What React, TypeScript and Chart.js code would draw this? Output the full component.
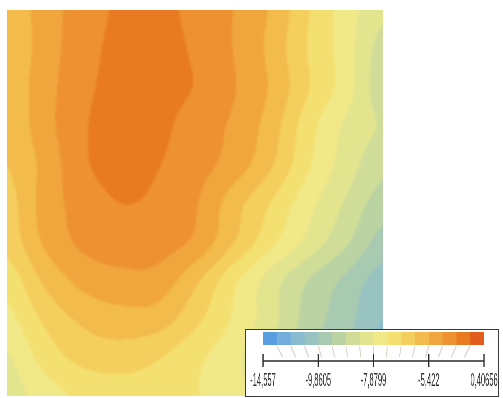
import React, { useEffect, useRef } from "react";
import { Chart, registerables } from "chart.js";

Chart.register(...registerables);

// grid node positions (column / row indices of the sampled field)
const gridCols = [0, 1, 2, 3, 4, 5, 6, 7, 8, 9, 10];
const gridRows = [0, 1, 2, 3, 4, 5, 6, 7, 8, 9, 10];

// field sampled on the grid, in colour-level units (0 = lowest band, 16 = highest)
const row0 = [11.2, 12.5, 13.45, 14.15, 14.3, 13.7, 13.0, 11.9, 10.1, 8.5, 7.2];
const row1 = [11.1, 12.5, 13.55, 14.3, 14.4, 13.85, 13.0, 11.75, 9.95, 8.5, 6.6];
const row2 = [11.3, 12.6, 13.7, 14.4, 14.45, 13.95, 13.1, 11.9, 10.1, 8.5, 6.4];
const row3 = [11.2, 12.6, 13.85, 14.5, 14.3, 13.5, 12.85, 11.55, 9.45, 7.85, 6.9];
const row4 = [11.0, 12.3, 13.8, 14.4, 14.05, 13.4, 12.6, 11.15, 9.15, 7.55, 6.3];
const row5 = [10.6, 12.4, 13.4, 14.0, 13.8, 13.1, 11.5, 10.0, 8.35, 6.9, 5.5];
const row6 = [10.4, 12.15, 13.2, 13.5, 13.45, 12.8, 11.1, 9.3, 7.7, 6.2, 4.6];
const row7 = [9.4, 11.2, 12.3, 12.7, 12.6, 11.25, 9.3, 7.55, 6.0, 4.8, 3.5];
const row8 = [8.7, 10.2, 11.2, 11.6, 11.5, 10.3, 8.9, 7.4, 5.6, 4.4, 3.0];
const row9 = [7.9, 9.4, 10.3, 10.5, 10.1, 9.25, 8.35, 6.8, 5.3, 4.0, 2.6];
const row10 = [7.5, 8.5, 9.2, 9.5, 9.45, 9.05, 8.4, 7.2, 5.1, 3.8, 2.4];
const field = [row0, row1, row2, row3, row4, row5, row6, row7, row8, row9, row10];

// colour of each level band (low -> high)
const levelColors = [
  "#5a9ee2", "#74aedc", "#88bbd0", "#98c3c0", "#a8cab0", "#bbd3a3", "#d0dd98", "#e3e58e",
  "#f1e887", "#f4e070", "#f4cf5d", "#f2bb4c", "#f0a63d", "#ed9131", "#e87b22", "#e25d1c",
];

// colour-bar ticks
const tickLevels = [0, 4, 8, 12, 16];
const tickLabels = ["-14,557", "-9,8605", "-7,8799", "-5,422", "0,40656"];

const SQUEEZE = 0.42;
const BAR_W = 600;

function hexToRgb(h: string) {
  const n = parseInt(h.slice(1), 16);
  return [(n >> 16) & 255, (n >> 8) & 255, n & 255];
}

function cr(p0: number, p1: number, p2: number, p3: number, t: number) {
  return p1 + 0.5 * t * (p2 - p0 + t * (2 * p0 - 5 * p1 + 4 * p2 - p3 + t * (3 * (p1 - p2) + p3 - p0)));
}

function sampleField(gx: number, gy: number) {
  const nc = gridCols.length, nr = gridRows.length;
  const cx = Math.max(0, Math.min(nc - 1.0001, gx));
  const cy = Math.max(0, Math.min(nr - 1.0001, gy));
  const i = Math.floor(cx), j = Math.floor(cy);
  const tx = cx - i, ty = cy - j;
  const cl = (v: number, n: number) => Math.max(0, Math.min(n - 1, v));
  const vals: number[] = [];
  for (let m = -1; m <= 2; m++) {
    const r = field[cl(j + m, nr)];
    vals.push(cr(r[cl(i - 1, nc)], r[cl(i, nc)], r[cl(i + 1, nc)], r[cl(i + 2, nc)], tx));
  }
  return cr(vals[0], vals[1], vals[2], vals[3], ty);
}

const contourPlugin = {
  id: "contourFill",
  beforeDatasetsDraw(chart: any) {
    const { ctx, chartArea: a, scales } = chart;
    const xs = scales.x, ys = scales.y;
    const M = 4;
    const w = Math.round(a.right - a.left) + 2 * M, h = Math.round(a.bottom - a.top) + 2 * M;
    const off = document.createElement("canvas");
    off.width = w;
    off.height = h;
    const octx = off.getContext("2d")!;
    const img = octx.createImageData(w, h);
    const rgb = levelColors.map(hexToRgb);
    const gxs: number[] = [];
    for (let px = 0; px < w; px++) gxs.push(xs.getValueForPixel(a.left - M + px + 0.5));
    for (let py = 0; py < h; py++) {
      const gy = ys.getValueForPixel(a.top - M + py + 0.5);
      for (let px = 0; px < w; px++) {
        const v = sampleField(gxs[px], gy);
        const k = Math.max(0, Math.min(levelColors.length - 1, Math.floor(v)));
        const c = rgb[k];
        const o = (py * w + px) * 4;
        img.data[o] = c[0];
        img.data[o + 1] = c[1];
        img.data[o + 2] = c[2];
        img.data[o + 3] = 255;
      }
    }
    octx.putImageData(img, 0, 0);
    ctx.save();
    ctx.beginPath();
    ctx.rect(a.left, a.top, a.right - a.left, a.bottom - a.top);
    ctx.clip();
    ctx.filter = "blur(0.8px)";
    ctx.drawImage(off, a.left - M, a.top - M, w, h);
    ctx.restore();
  },
};

const colorbarPlugin = {
  id: "colorbarAxis",
  afterDatasetsDraw(chart: any) {
    const { ctx, chartArea: a, scales } = chart;
    const xs = scales.x;
    const mid = (xs.getPixelForValue(0) + xs.getPixelForValue(16)) / 2;
    ctx.save();
    // faint slanted guide lines under the bar
    ctx.strokeStyle = "rgba(185,150,130,0.45)";
    ctx.lineWidth = 2.2;
    for (let i = 1; i < levelColors.length; i++) {
      const px = xs.getPixelForValue(i);
      ctx.beginPath();
      ctx.moveTo(px, a.bottom + 1);
      ctx.lineTo(px + (mid - px) * 0.06, a.bottom + 12);
      ctx.stroke();
    }
    // axis line
    const axisY = a.bottom + 16;
    ctx.strokeStyle = "#2a2a2a";
    ctx.lineWidth = 1.4;
    ctx.beginPath();
    ctx.moveTo(xs.getPixelForValue(0), axisY);
    ctx.lineTo(xs.getPixelForValue(16), axisY);
    ctx.stroke();
    ctx.lineWidth = 2.8;
    for (const t of tickLevels) {
      const px = xs.getPixelForValue(t);
      ctx.beginPath();
      ctx.moveTo(px, axisY - 7);
      ctx.lineTo(px, axisY + 6);
      ctx.stroke();
    }
    ctx.restore();
  },
};

export default function App() {
  const mainRef = useRef<HTMLCanvasElement>(null);
  const barRef = useRef<HTMLCanvasElement>(null);

  useEffect(() => {
    const main = new Chart(mainRef.current!, {
      type: "scatter",
      data: { datasets: [] },
      options: {
        animation: false,
        responsive: false,
        events: [],
        layout: { padding: { left: 7, top: 10, right: 120, bottom: 2 } },
        plugins: { legend: { display: false }, tooltip: { enabled: false } },
        scales: {
          x: { type: "linear", min: gridCols[0], max: gridCols[gridCols.length - 1], display: false },
          y: { type: "linear", min: gridRows[0], max: gridRows[gridRows.length - 1], reverse: true, display: false },
        },
      },
      plugins: [contourPlugin],
    });

    const bar = new Chart(barRef.current!, {
      type: "bar",
      data: {
        labels: ["levels"],
        datasets: levelColors.map((c, i) => ({
          label: "L" + i,
          data: [1],
          backgroundColor: c,
          borderWidth: 0,
          barPercentage: 1,
          categoryPercentage: 1,
        })),
      },
      options: {
        animation: false,
        responsive: false,
        events: [],
        indexAxis: "y",
        layout: { autoPadding: false, padding: { left: 40.5, right: 33.3, top: 2, bottom: 4 } },
        plugins: { legend: { display: false }, tooltip: { enabled: false } },
        scales: {
          x: {
            type: "linear",
            min: 0,
            max: 16,
            stacked: true,
            grid: { display: false, drawTicks: false },
            border: { display: false },
            afterFit: (scale: any) => {
              scale.paddingLeft = 0;
              scale.paddingRight = 0;
              scale.height = 47;
            },
            ticks: {
              stepSize: 4,
              autoSkip: false,
              maxRotation: 0,
              padding: 25,
              color: "#2e2e2e",
              font: { size: 18, family: "'Liberation Sans', Arial, sans-serif" },
              callback: (v: any) => {
                const k = tickLevels.indexOf(Number(v));
                return k >= 0 ? tickLabels[k] : "";
              },
            },
          },
          y: { stacked: true, display: false },
        },
      },
      plugins: [colorbarPlugin],
    });

    return () => {
      main.destroy();
      bar.destroy();
    };
  }, []);

  return (
    <div style={{ position: "fixed", left: 0, top: 0, width: 503, height: 398, background: "#ffffff", overflow: "hidden" }}>
      <canvas ref={mainRef} width={503} height={398} style={{ position: "absolute", left: 0, top: 0 }} />
      <div
        style={{
          position: "absolute",
          left: 245,
          top: 329,
          width: 254,
          height: 68,
          boxSizing: "border-box",
          border: "1px solid #3a3a3a",
          background: "#ffffff",
          overflow: "hidden",
        }}
      >
        <div style={{ width: BAR_W, height: 66, transform: `scaleX(${SQUEEZE})`, transformOrigin: "0 0" }}>
          <canvas ref={barRef} width={BAR_W} height={66} />
        </div>
      </div>
    </div>
  );
}
